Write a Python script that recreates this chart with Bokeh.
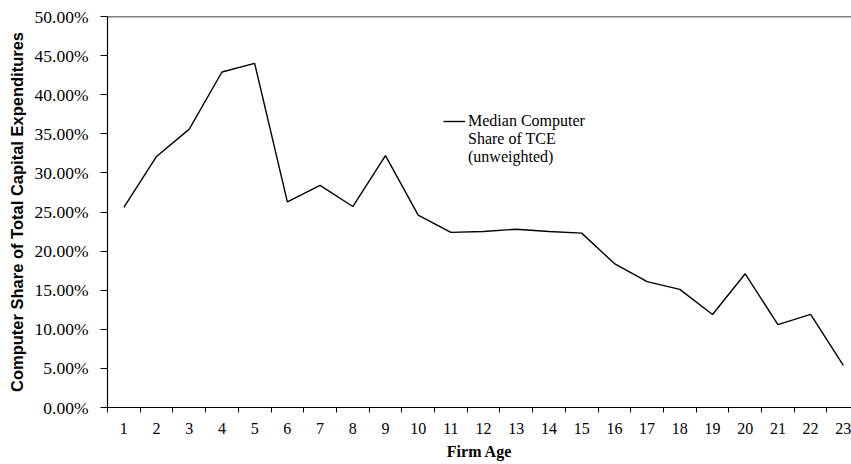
from bokeh.plotting import figure
from bokeh.models import FixedTicker, PrintfTickFormatter, Span, Legend, LegendItem, Range1d
from bokeh.embed import file_html
from bokeh.resources import INLINE

firm_age = list(range(1, 24))
median_share = [25.6, 32.1, 35.6, 42.9, 44.0, 26.3, 28.4, 25.7, 32.2, 24.6, 22.4, 22.5,
                22.8, 22.5, 22.3, 18.4, 16.1, 15.1, 11.9, 17.1, 10.6, 11.9, 5.4]
y_ticks = [0, 5, 10, 15, 20, 25, 30, 35, 40, 45, 50]
legend_lines = ["Median Computer", "Share of TCE", "(unweighted)"]

p = figure(width=851, height=464, output_backend="svg", toolbar_location=None,
           x_range=Range1d(0.5, 23.25), y_range=Range1d(0, 50),
           min_border_left=107, min_border_right=0, min_border_top=16, min_border_bottom=57)
p.outline_line_color = None
p.background_fill_color = "white"
p.border_fill_color = "white"
p.xgrid.visible = False
p.ygrid.visible = False

r = p.line(firm_age, median_share, line_color="black", line_width=1.4)
blank = p.line([], [], line_alpha=0)

p.add_layout(Span(location=50, dimension="width", line_color="black", line_width=1.5))

# x axis
xa = p.xaxis[0]
xa.ticker = FixedTicker(ticks=firm_age, minor_ticks=[a - 0.5 for a in firm_age])
xa.major_tick_out = 0
xa.major_tick_in = 0
xa.minor_tick_out = 5
xa.minor_tick_in = 0
xa.minor_tick_line_color = "black"
xa.axis_line_color = "black"
xa.axis_line_width = 1.2
xa.major_label_standoff = 10
xa.major_label_text_font = "Liberation Serif"
xa.major_label_text_font_size = "16px"
xa.major_label_text_color = "black"
xa.axis_label = "Firm Age"
xa.axis_label_text_font = "Liberation Serif"
xa.axis_label_text_font_style = "bold"
xa.axis_label_text_font_size = "16px"
xa.axis_label_text_color = "black"
xa.axis_label_standoff = 6

# y axis
ya = p.yaxis[0]
ya.ticker = FixedTicker(ticks=y_ticks, minor_ticks=[])
ya.formatter = PrintfTickFormatter(format="%.2f%%")
ya.major_tick_out = 7
ya.major_tick_in = 0
ya.minor_tick_out = 0
ya.axis_line_color = "black"
ya.axis_line_width = 1.2
ya.major_label_standoff = 12
ya.major_label_text_font = "Liberation Serif"
ya.major_label_text_font_size = "17.5px"
ya.major_label_text_color = "black"
ya.axis_label = "Computer Share of Total Capital Expenditures"
ya.axis_label_text_font = "Liberation Sans"
ya.axis_label_text_font_style = "bold"
ya.axis_label_text_font_size = "16.5px"
ya.axis_label_text_color = "black"
ya.axis_label_standoff = 6

items = [LegendItem(label=legend_lines[0], renderers=[r])] + \
        [LegendItem(label=t, renderers=[blank]) for t in legend_lines[1:]]
legend = Legend(items=items,
                location=(336, 241), border_line_color=None, background_fill_alpha=0,
                padding=0, margin=0, spacing=0, glyph_width=22, glyph_height=18,
                label_height=18, label_standoff=3,
                label_text_font="Liberation Serif", label_text_font_size="16px",
                label_text_color="black")
p.add_layout(legend, "center")

open("out.html", "w").write(file_html(p, INLINE))
